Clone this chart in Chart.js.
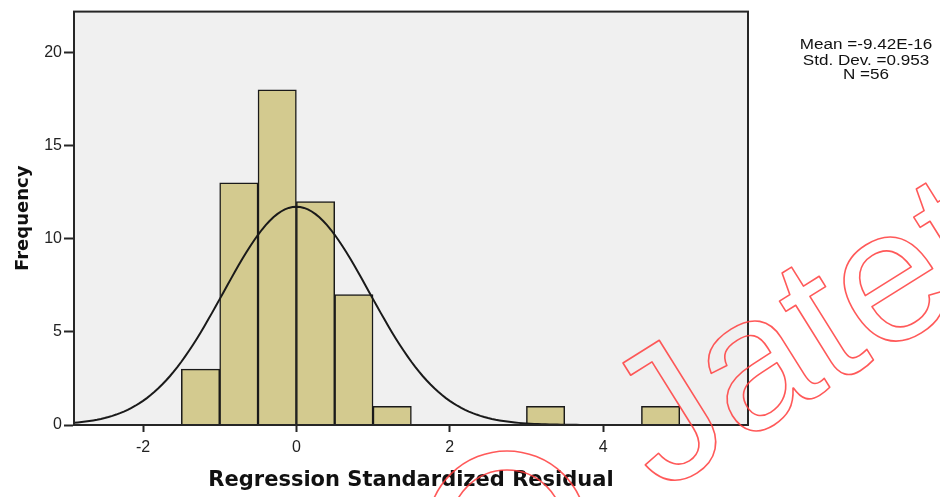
<!DOCTYPE html>
<html>
<head>
<meta charset="utf-8">
<script src="https://cdn.jsdelivr.net/npm/chart.js@4/dist/chart.umd.min.js"></script>
<style>
  html, body { margin: 0; padding: 0; background: #ffffff; }
  #wrap { width: 940px; height: 497px; }
</style>
</head>
<body>
<div id="wrap"><canvas id="c" width="940" height="497"></canvas></div>
<script>
// Histogram bins (lower edge of each bin) and their frequencies
const binStarts = [-1.5, -1.0, -0.5, 0.0, 0.5, 1.0, 1.5, 2.0, 2.5, 3.0, 3.5, 4.0, 4.5];
const binCounts = [3, 13, 18, 12, 7, 1, 0, 0, 0, 1, 0, 0, 1];
const binWidth = 0.5;

// Summary statistics printed beside the plot
const statMean = -9.42e-16;
const statSD = 0.953;
const statN = 56;
const statLines = ['Mean =-9.42E-16', 'Std. Dev. =0.953', 'N =56'];

// Axis ticks and ranges
const xTicks = [-2, 0, 2, 4];
const yTicks = [0, 5, 10, 15, 20];
const xRange = [-2.9, 5.89];
const yRange = [0, 22.2];

// Fitted normal curve, scaled to frequency per bin (N x bin width x density)
const curveStep = 0.05;
const curve = [];
for (let x = xRange[0]; x <= xRange[1] + 1e-9; x += curveStep) {
  const z = (x - statMean) / statSD;
  curve.push({ x: x, y: statN * binWidth * Math.exp(-0.5 * z * z) / (statSD * Math.sqrt(2 * Math.PI)) });
}

const bars = binStarts.map((s, i) => ({ x: s + binWidth / 2, y: binCounts[i] }));

const AXIS = '#262626';

const plotFrame = {
  id: 'plotFrame',
  beforeDatasetsDraw(chart) {
    const { ctx, chartArea: a } = chart;
    ctx.save();
    ctx.fillStyle = '#f0f0f0';
    ctx.fillRect(a.left, a.top, a.right - a.left, a.bottom - a.top);
    ctx.restore();
  },
  afterDatasetsDraw(chart) {
    const { ctx, chartArea: a } = chart;
    ctx.save();
    ctx.strokeStyle = AXIS;
    ctx.lineWidth = 2;
    ctx.strokeRect(a.left, a.top, a.right - a.left, a.bottom - a.top);
    ctx.restore();
  }
};

const statsBox = {
  id: 'statsBox',
  afterDraw(chart) {
    const { ctx } = chart;
    ctx.save();
    ctx.fillStyle = '#111';
    ctx.textAlign = 'center';
    ctx.textBaseline = 'middle';
    ctx.font = '14px "Liberation Sans", Arial, sans-serif';
    const ys = [45, 61, 75];
    statLines.forEach((t, i) => {
      ctx.save();
      ctx.translate(866, ys[i]);
      ctx.scale(1.22, 1);
      ctx.fillText(t, 0, 0);
      ctx.restore();
    });
    ctx.restore();
  }
};

const stamp = {
  id: 'stamp',
  afterDraw(chart) {
    const { ctx } = chart;
    ctx.save();
    ctx.strokeStyle = 'rgba(255, 60, 60, 0.85)';
    ctx.lineWidth = 1.6;
    ctx.lineJoin = 'round';
    ctx.translate(660, 494);
    ctx.rotate(-32 * Math.PI / 180);
    ctx.font = '190px "Liberation Sans", Arial, sans-serif';
    ctx.strokeText('Jatet', 0, 0);
    ctx.restore();
    ctx.save();
    ctx.strokeStyle = 'rgba(255, 60, 60, 0.85)';
    ctx.lineWidth = 1.6;
    ctx.beginPath();
    ctx.arc(507, 531, 80, Math.PI, 2 * Math.PI);
    ctx.stroke();
    ctx.beginPath();
    ctx.arc(507, 526, 56, Math.PI, 2 * Math.PI);
    ctx.stroke();
    ctx.restore();
  }
};

new Chart(document.getElementById('c'), {
  data: {
    datasets: [
      {
        type: 'line',
        data: curve,
        borderColor: '#1a1a1a',
        borderWidth: 2,
        pointRadius: 0,
        tension: 0,
        fill: false,
        order: 0
      },
      {
        type: 'bar',
        data: bars,
        backgroundColor: '#d3ca8f',
        borderColor: '#1a1a1a',
        borderWidth: 1.5,
        barPercentage: 1,
        categoryPercentage: 1,
        grouped: false,
        order: 1
      }
    ]
  },
  options: {
    responsive: false,
    animation: false,
    devicePixelRatio: 1,
    layout: { padding: { top: 8, right: 192, left: 0, bottom: 0 } },
    plugins: { legend: { display: false }, tooltip: { enabled: false } },
    scales: {
      x: {
        type: 'linear',
        offset: false,
        min: xRange[0],
        max: xRange[1],
        afterBuildTicks: s => { s.ticks = xTicks.map(v => ({ value: v })); },
        afterFit: s => { s.height = 72; },
        ticks: {
          color: '#222',
          padding: 6,
          font: { family: '"Liberation Sans", Arial, sans-serif', size: 16 },
          maxRotation: 0
        },
        grid: { offset: false, drawOnChartArea: false, drawTicks: true, tickLength: 7, tickWidth: 2, tickColor: AXIS },
        border: { display: true, color: AXIS, width: 2 },
        title: {
          display: true,
          text: 'Regression Standardized Residual',
          color: '#111',
          font: { family: '"DejaVu Sans", Verdana, sans-serif', size: 21, weight: 'bold' },
          padding: { top: 0, bottom: 4 }
        }
      },
      y: {
        type: 'linear',
        min: yRange[0],
        max: yRange[1],
        afterBuildTicks: s => { s.ticks = yTicks.map(v => ({ value: v })); },
        afterFit: s => { s.width = 74; },
        ticks: {
          color: '#222',
          padding: 2,
          font: { family: '"Liberation Sans", Arial, sans-serif', size: 16 }
        },
        grid: { drawOnChartArea: false, drawTicks: true, tickLength: 10, tickWidth: 2, tickColor: AXIS },
        border: { display: true, color: AXIS, width: 2 },
        title: {
          display: true,
          text: 'Frequency',
          color: '#111',
          font: { family: '"DejaVu Sans", Verdana, sans-serif', size: 18, weight: 'bold' },
          padding: { top: 13, bottom: 0 }
        }
      }
    }
  },
  plugins: [plotFrame, statsBox, stamp]
});
</script>
</body>
</html>
